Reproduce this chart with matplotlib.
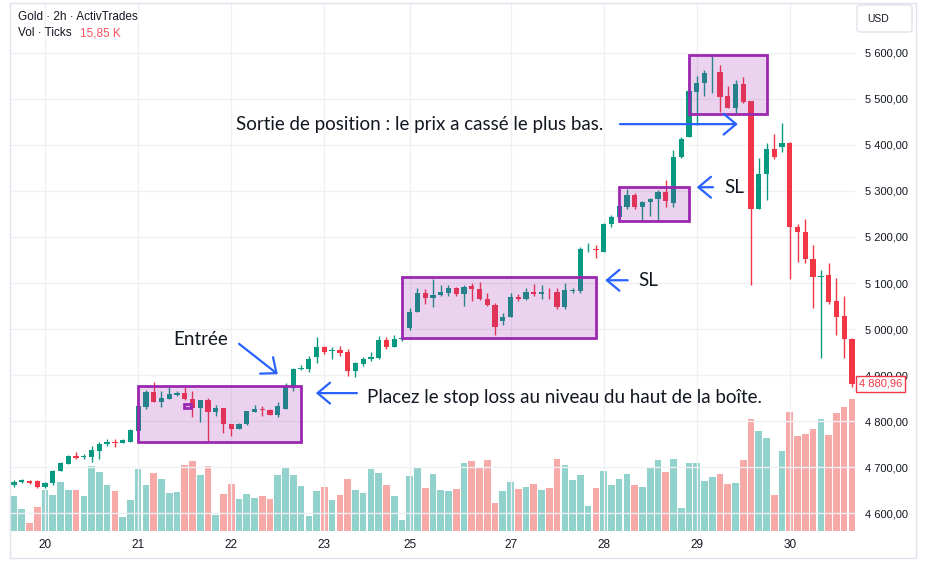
#!/usr/bin/env python3
from __future__ import annotations

import matplotlib
matplotlib.use("Agg")
import matplotlib.pyplot as plt
import matplotlib.transforms as mtransforms
import numpy as np
from matplotlib.patches import ArrowStyle, FancyBboxPatch, Rectangle

# Gold 2h candles (price in USD)
opens = [
    4662, 4668, 4670, 4670, 4657, 4666, 4692, 4707, 4724, 4723,
    4722, 4735, 4750, 4755, 4753, 4755, 4779, 4831, 4863, 4842,
    4848, 4857, 4861, 4848, 4829, 4846, 4820, 4829, 4794, 4783,
    4794, 4820, 4826, 4824, 4813, 4826, 4872, 4913, 4913, 4939,
    4961, 4953, 4954, 4950, 4909, 4924, 4935, 4937, 4976, 4961,
    4979, 5002, 5037, 5078, 5067, 5074, 5078, 5089, 5076, 5093,
    5087, 5065, 5052, 5017, 5026, 5070, 5065, 5080, 5076, 5083,
    5080, 5048, 5083, 5083, 5173, 5174, 5167, 5228, 5243, 5265,
    5291, 5265, 5276, 5282, 5298, 5274, 5374, 5417, 5515, 5534,
    5555, 5558, 5506, 5480, 5532, 5495, 5261, 5337, 5391, 5395,
    5404, 5222, 5211, 5152, 5113, 5117, 5061, 5028, 4978,
]
highs = [
    4672, 4674, 4672, 4672, 4668, 4694, 4711, 4727, 4733, 4729,
    4746, 4755, 4761, 4761, 4761, 4783, 4833, 4868, 4885, 4866,
    4874, 4866, 4874, 4866, 4846, 4850, 4835, 4829, 4794, 4796,
    4822, 4835, 4833, 4826, 4842, 4883, 4915, 4922, 4941, 4983,
    4963, 4961, 4963, 4957, 4928, 4939, 4950, 4985, 4983, 4987,
    4983, 5046, 5089, 5087, 5109, 5096, 5096, 5091, 5096, 5100,
    5102, 5078, 5057, 5035, 5078, 5076, 5089, 5098, 5096, 5089,
    5089, 5100, 5089, 5178, 5187, 5183, 5230, 5248, 5272, 5304,
    5295, 5278, 5285, 5302, 5324, 5389, 5417, 5595, 5549, 5562,
    5593, 5573, 5528, 5541, 5547, 5495, 5371, 5404, 5424, 5447,
    5406, 5228, 5239, 5183, 5128, 5143, 5111, 5072, 4981,
]
lows = [
    4657, 4666, 4664, 4655, 4655, 4661, 4692, 4707, 4718, 4718,
    4711, 4718, 4746, 4744, 4753, 4755, 4779, 4826, 4842, 4831,
    4848, 4855, 4846, 4809, 4798, 4755, 4811, 4774, 4768, 4783,
    4792, 4820, 4811, 4813, 4809, 4826, 4866, 4911, 4907, 4926,
    4946, 4935, 4941, 4898, 4896, 4920, 4931, 4935, 4957, 4961,
    4974, 4998, 5037, 5054, 5048, 5072, 5072, 5072, 5050, 5061,
    5063, 5050, 4987, 5009, 5026, 5061, 5063, 5072, 5065, 5065,
    5044, 5044, 5078, 5078, 5167, 5154, 5167, 5222, 5241, 5261,
    5261, 5235, 5246, 5235, 5265, 5265, 5371, 5417, 5443, 5506,
    5512, 5471, 5480, 5469, 5491, 5096, 5261, 5280, 5369, 5384,
    5109, 5146, 5143, 5046, 4937, 5054, 4987, 4937, 4875,
]
closes = [
    4668, 4672, 4666, 4657, 4666, 4692, 4709, 4724, 4720, 4724,
    4737, 4750, 4755, 4753, 4759, 4781, 4833, 4863, 4842, 4850,
    4859, 4861, 4848, 4829, 4846, 4820, 4829, 4794, 4783, 4794,
    4822, 4826, 4824, 4813, 4833, 4874, 4913, 4915, 4935, 4961,
    4950, 4954, 4948, 4909, 4926, 4935, 4939, 4976, 4961, 4978,
    4981, 5037, 5078, 5067, 5074, 5080, 5089, 5076, 5091, 5087,
    5065, 5052, 5004, 5026, 5070, 5065, 5080, 5076, 5080, 5082,
    5048, 5085, 5084, 5174, 5174, 5172, 5228, 5243, 5267, 5291,
    5265, 5276, 5282, 5298, 5278, 5374, 5413, 5517, 5534, 5556,
    5556, 5504, 5480, 5532, 5493, 5261, 5337, 5391, 5374, 5404,
    5222, 5211, 5152, 5113, 5115, 5059, 5026, 4978, 4880.96,
]
# tick volume, thousands
volumes = [
    4.18, 2.61, 0.93, 2.85, 4.90, 4.30, 5.86, 4.90, 4.90, 4.18,
    7.79, 7.06, 5.50, 4.78, 1.65, 3.69, 7.42, 5.50, 6.94, 6.22,
    4.54, 4.66, 7.91, 8.39, 6.70, 7.79, 1.89, 4.42, 5.62, 3.81,
    4.42, 3.93, 4.18, 3.81, 6.70, 7.55, 6.70, 5.38, 1.77, 4.78,
    5.26, 3.69, 4.30, 6.22, 4.90, 4.54, 7.42, 6.94, 5.50, 4.18,
    1.29, 6.58, 7.55, 5.14, 6.82, 4.90, 4.78, 5.02, 8.15, 8.39,
    7.67, 8.51, 3.33, 4.78, 5.86, 5.02, 5.26, 5.62, 4.90, 5.14,
    8.63, 7.91, 6.10, 6.70, 2.97, 5.14, 7.18, 5.50, 6.22, 6.82,
    5.50, 5.26, 7.67, 8.51, 7.06, 8.63, 2.73, 8.15, 8.15, 5.98,
    6.46, 6.82, 5.62, 5.74, 8.51, 13.44, 12.00, 11.16, 4.30, 9.59,
    14.28, 11.40, 11.64, 12.24, 13.44, 11.52, 14.16, 14.89, 15.85,
]

day_pos = [4, 16, 28, 40, 51, 64, 76, 88, 100]
day_labels = ["20", "21", "22", "23", "25", "27", "28", "29", "30"]
price_ticks = list(range(4600, 5700, 100))
last_price = 4880.96

# consolidation boxes: bar index from/to, price low/high
box_x0 = [16, 50, 78, 87, 21.9]
box_x1 = [37, 75, 87, 97, 22.8]
box_lo = [4755, 4981, 5235, 5467, 4829]
box_hi = [4876, 5113, 5308, 5595, 4837]

W, H = 927, 566
GREEN, RED = "#089981", "#f23645"
VGREEN, VRED = "#92d2cc", "#f7a9a7"
BLUE = "#2962ff"
INK = "#131722"
FONT = "Lato"


def fmt_price(v: float) -> str:
    return f"{v:,.2f}".replace(",", " ").replace(".", ",")


def px(x: float, y: float) -> tuple[float, float]:
    return x / W, 1 - y / H


def arrow(ax, tail, head):
    ax.annotate(
        "", xy=head, xytext=tail,
        arrowprops=dict(
            arrowstyle=ArrowStyle("->", head_length=0.6, head_width=0.5),
            color=BLUE, lw=1.6, shrinkA=0, shrinkB=0, mutation_scale=15,
        ),
        zorder=8,
    )


def main() -> None:
    n = len(closes)
    assert all(len(a) == n for a in (opens, highs, lows, volumes))
    x = np.arange(n)
    o = np.array(opens, float)
    c = np.array(closes, float)
    up = c >= o

    fig = plt.figure(figsize=(W / 100, H / 100), dpi=100)
    rect = [10 / W, 1 - 531 / H, 845 / W, 528 / H]
    ax_vol = fig.add_axes(rect)
    ax = fig.add_axes(rect)
    ax_vol.set_zorder(0)
    ax.set_zorder(1)
    ax.patch.set_visible(False)

    # volume pane (same x scale, bottom quarter)
    ax_vol.bar(x, volumes, width=0.86, color=np.where(up, VGREEN, VRED), linewidth=0)
    ax_vol.set_xlim(-0.52, 108.4)
    ax_vol.set_ylim(0, 15.85 * 528 / 131.7)
    ax_vol.axis("off")

    # candles
    colors = np.where(up, GREEN, RED)
    ax.vlines(x, lows, highs, colors=colors, linewidth=1, zorder=3)
    body = np.maximum(np.abs(c - o), 1.6)
    ax.bar(x, body, width=0.68, bottom=np.minimum(o, c), color=colors, linewidth=0, zorder=4)

    for x0, x1, lo, hi in zip(box_x0, box_x1, box_lo, box_hi):
        ax.add_patch(Rectangle((x0, lo), x1 - x0, hi - lo, facecolor=(0.612, 0.153, 0.69, 0.2),
                               edgecolor="#9c27b0", linewidth=2, zorder=5))

    ax.set_xlim(-0.52, 108.4)
    ax.set_ylim(4561.6, 5708)
    ax.set_xticks(day_pos, day_labels)
    ax.set_yticks(price_ticks, [fmt_price(v) for v in price_ticks])
    ax.yaxis.tick_right()
    ax.grid(True, color="#eef0f3", linewidth=1)
    ax.set_axisbelow(True)
    for s in ax.spines.values():
        s.set_visible(False)
    ax.tick_params(axis="y", length=0, pad=7, labelsize=8, labelcolor=INK)
    ax.tick_params(axis="x", length=0, pad=6, labelsize=8.5, labelcolor=INK)
    for lab in ax.get_xticklabels() + ax.get_yticklabels():
        lab.set_fontfamily("Liberation Sans")

    # annotations
    tkw = dict(fontsize=13.5, color=INK, family=FONT, va="center", zorder=9)
    ax.text(20.5, 4978, "Entrée", ha="left", **tkw)
    arrow(ax, (29.0, 4968), (34.0, 4902))
    ax.text(45.5, 4852, "Placez le stop loss au niveau du haut de la boîte.", ha="left", **tkw)
    arrow(ax, (44.2, 4861), (38.9, 4861))
    ax.text(80.5, 5106, "SL", ha="left", **tkw)
    arrow(ax, (79.1, 5106), (76.2, 5106))
    ax.text(91.5, 5308, "SL", ha="left", **tkw)
    arrow(ax, (90.1, 5308), (88.0, 5308))
    ax.text(28.6, 5445, "Sortie de position : le prix a cassé le plus bas.", ha="left", **tkw)
    arrow(ax, (78.1, 5445), (93.3, 5445))

    # last price label on the price scale
    trans = mtransforms.blended_transform_factory(ax.transAxes, ax.transData)
    ax.text(1.0045, last_price, fmt_price(last_price), transform=trans, ha="left", va="center",
            fontsize=8, color=RED, family="Liberation Sans", clip_on=False, zorder=20,
            bbox=dict(boxstyle="square,pad=0.25", facecolor="white", edgecolor=RED, linewidth=1))

    # header legend
    hkw = dict(fontsize=8.5, family="Liberation Sans", va="center")
    fig.text(*px(18, 17), "Gold · 2h · ActivTrades", color=INK, **hkw)
    fig.text(*px(18, 33), "Vol · Ticks", color=INK, **hkw)
    fig.text(*px(80, 33), "15,85 K", color="#f7525f", **hkw)

    # currency button + outer frame
    fig.patches.append(FancyBboxPatch(px(857, 32), 55 / W, 27 / H, boxstyle="round,pad=0,rounding_size=0.004",
                                      transform=fig.transFigure, facecolor="white",
                                      edgecolor="#e0e3eb", linewidth=1))
    fig.text(*px(867, 18.5), "USD", fontsize=7.5, color=INK, family="Liberation Sans", va="center")
    fig.patches.append(Rectangle(px(10, 558), 906 / W, 555 / H, transform=fig.transFigure,
                                 fill=False, edgecolor="#e0e3eb", linewidth=1))

    fig.savefig("out.png", dpi=100)


if __name__ == "__main__":
    main()
